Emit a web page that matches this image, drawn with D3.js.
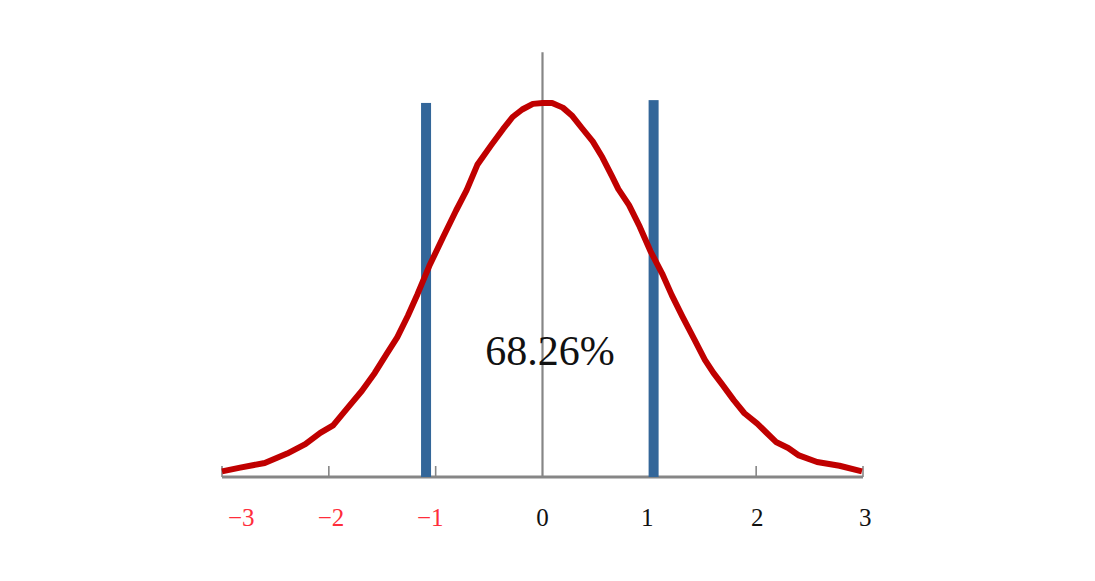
<!DOCTYPE html>
<html><head><meta charset="utf-8">
<script src="https://cdn.jsdelivr.net/npm/d3@7"></script>
<style>body{margin:0;background:#fff}svg{display:block}</style>
</head><body>
<svg id="c" width="1095" height="581"></svg>
<script>
// curve points (z, density)
const curveX = [-3.00,-2.83,-2.60,-2.39,-2.22,-2.08,-1.96,-1.83,-1.69,-1.57,-1.46,-1.36,-1.26,-1.17,-1.06,-0.93,-0.81,-0.71,-0.61,-0.48,-0.37,-0.28,-0.19,-0.09,0.00,0.09,0.19,0.28,0.37,0.47,0.56,0.65,0.71,0.81,0.91,1.01,1.12,1.21,1.31,1.42,1.52,1.60,1.68,1.79,1.89,2.01,2.09,2.19,2.30,2.40,2.57,2.78,2.99];
const curveY = [0.006,0.010,0.015,0.025,0.035,0.047,0.055,0.073,0.092,0.111,0.131,0.149,0.172,0.195,0.225,0.256,0.284,0.306,0.333,0.354,0.371,0.384,0.392,0.398,0.399,0.399,0.394,0.385,0.372,0.358,0.341,0.321,0.307,0.290,0.267,0.241,0.217,0.194,0.171,0.147,0.125,0.111,0.099,0.082,0.068,0.057,0.048,0.037,0.031,0.023,0.016,0.012,0.006];
const barX = [-1.09, 1.04];
const barH = [0.399, 0.402];
const tickValues = [-3, -2, -1, 2, 3];
const labelValues = [-2.82, -1.98, -1.05, 0, 0.98, 2.01, 3.02];
const labelTexts = ["\u22123", "\u22122", "\u22121", "0", "1", "2", "3"];
const annotation = "68.26%";
const annotationPos = [0.07, 0.12];
const vAxisTop = 0.453;

const svg = d3.select("#c");
const x = d3.scaleLinear().domain([-3, 3]).range([222, 863]);
const y = d3.scaleLinear().domain([0, 0.4]).range([477, 102]);

// vertical axis
svg.append("line").attr("x1", x(0)).attr("x2", x(0)).attr("y1", y(0)).attr("y2", y(vAxisTop))
  .attr("stroke", "#868686").attr("stroke-width", 2.2);

// ticks
svg.selectAll(".tk").data(tickValues).join("line")
  .attr("x1", d => x(d)).attr("x2", d => x(d)).attr("y1", y(0)).attr("y2", y(0) - 11)
  .attr("stroke", "#868686").attr("stroke-width", 1.6);

// horizontal axis
svg.append("line").attr("x1", x(-3)).attr("x2", x(3)).attr("y1", y(0)).attr("y2", y(0))
  .attr("stroke", "#868686").attr("stroke-width", 3);

// bars
svg.selectAll(".bar").data(barX).join("rect")
  .attr("x", d => x(d) - 5).attr("width", 10)
  .attr("y", (d, i) => y(barH[i])).attr("height", (d, i) => y(0) - y(barH[i]))
  .attr("fill", "#336699");

// curve
const line = d3.line().x(d => x(d[0])).y(d => y(d[1]));
svg.append("path").datum(curveX.map((v, i) => [v, curveY[i]]))
  .attr("d", line).attr("fill", "none").attr("stroke", "#c00000")
  .attr("stroke-width", 6).attr("stroke-linejoin", "round");

// labels
svg.selectAll(".lb").data(labelValues).join("text")
  .attr("x", d => x(d)).attr("y", 526)
  .attr("text-anchor", "middle")
  .attr("font-family", "'Liberation Serif', serif").attr("font-size", 25)
  .attr("fill", (d, i) => labelTexts[i].startsWith("\u2212") ? "#ff2d3b" : "#111")
  .text((d, i) => labelTexts[i]);

svg.append("text").attr("x", x(annotationPos[0])).attr("y", y(annotationPos[1]))
  .attr("text-anchor", "middle")
  .attr("font-family", "'Liberation Serif', serif").attr("font-size", 42)
  .attr("fill", "#111").text(annotation);
</script>
</body></html>
